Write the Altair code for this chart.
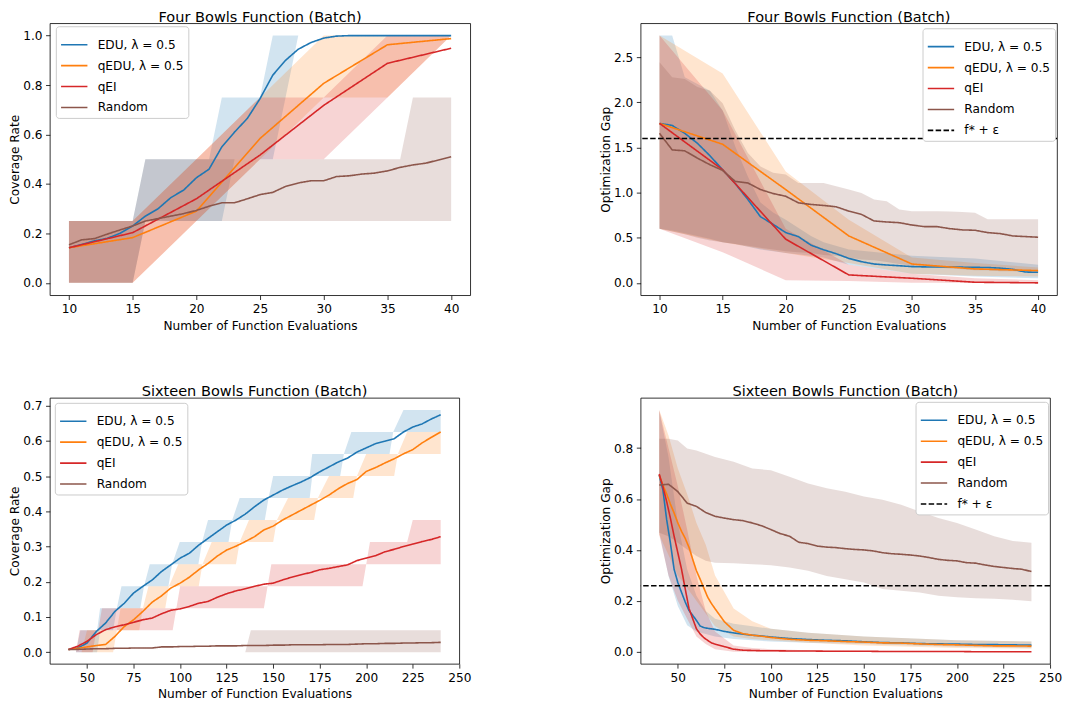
import altair as alt
import pandas as pd

FONT = "DejaVu Sans"
S_EDU = "EDU, λ = 0.5"
S_QEDU = "qEDU, λ = 0.5"
S_QEI = "qEI"
S_RND = "Random"
S_REF = "f* + ε"
COLORS = {S_EDU: "#1f77b4", S_QEDU: "#ff7f0e", S_QEI: "#d62728", S_RND: "#8c564b", S_REF: "#000000"}
DASHES = {S_EDU: [1, 0], S_QEDU: [1, 0], S_QEI: [1, 0], S_RND: [1, 0], S_REF: [5.5, 2.4]}

# ---------------- Four Bowls, coverage ----------------
tl_x_dense = list(range(10, 41))
tl_x_batch = [10, 15, 20, 25, 30, 35, 40]
tl_edu = [0.142, 0.155, 0.17, 0.18, 0.20, 0.23, 0.27, 0.30, 0.345, 0.375, 0.425, 0.46, 0.55, 0.61, 0.665,
          0.745, 0.84, 0.90, 0.945, 0.972, 0.99, 0.998, 1, 1, 1, 1, 1, 1, 1, 1, 1]
tl_qedu = [0.142, 0.183, 0.29, 0.584, 0.807, 0.963, 0.988]
tl_qei = [0.142, 0.203, 0.34, 0.517, 0.718, 0.888, 0.949]
tl_rnd = [0.154, 0.174, 0.179, 0.197, 0.214, 0.23, 0.25, 0.26, 0.27, 0.28, 0.293, 0.31, 0.324, 0.324, 0.34,
          0.357, 0.366, 0.39, 0.404, 0.413, 0.413, 0.43, 0.433, 0.44, 0.444, 0.453, 0.467, 0.477, 0.484, 0.497, 0.51]
tl_edu_band_x = [10, 15, 16, 21, 22, 23, 25, 26, 27, 28, 40]
tl_edu_band_lo = [0, 0, 0.25, 0.25, 0.25, 0.5, 0.5, 0.5, 0.75, 1.0, 1.0]
tl_edu_band_hi = [0.25, 0.25, 0.5, 0.5, 0.75, 0.75, 0.75, 1.0, 1.0, 1.0, 1.0]
tl_qedu_band_lo = [0, 0, 0.25, 0.5, 0.75, 0.75, 1.0]
tl_qedu_band_hi = [0.25, 0.25, 0.5, 0.75, 1.0, 1.0, 1.0]
tl_qei_band_lo = [0, 0, 0.25, 0.5, 0.5, 0.75, 1.0]
tl_qei_band_hi = [0.25, 0.25, 0.5, 0.75, 0.75, 1.0, 1.0]
tl_rnd_band_x = [10, 15, 16, 36, 37, 40]
tl_rnd_band_lo = [0, 0, 0.25, 0.25, 0.25, 0.25]
tl_rnd_band_hi = [0.25, 0.25, 0.5, 0.5, 0.75, 0.75]

# ---------------- Four Bowls, optimization gap ----------------
tr_edu = [1.767, 1.745, 1.657, 1.547, 1.408, 1.254, 1.10, 0.924, 0.733, 0.649, 0.557, 0.513, 0.418, 0.367, 0.323,
          0.271, 0.235, 0.209, 0.198, 0.19, 0.18, 0.177, 0.175, 0.175, 0.174, 0.172, 0.17, 0.163, 0.15, 0.12, 0.117]
tr_qedu = [1.767, 1.536, 1.034, 0.52, 0.209, 0.154, 0.136]
tr_qei = [1.767, 1.254, 0.484, 0.088, 0.051, 0.007, 0.0]
tr_rnd = [1.657, 1.474, 1.463, 1.382, 1.309, 1.246, 1.125, 1.107, 1.034, 0.99, 0.96, 0.887, 0.869, 0.858, 0.843,
          0.795, 0.759, 0.686, 0.675, 0.667, 0.641, 0.623, 0.623, 0.601, 0.587, 0.583, 0.557, 0.546, 0.52, 0.513, 0.506]
tr_edu_band_x = [10, 11, 12, 14, 15, 16, 17, 18, 19, 20, 22, 23, 25, 30, 35, 40]
tr_edu_band_hi = [2.74, 2.74, 2.28, 2.13, 1.91, 1.51, 1.18, 0.89, 0.78, 0.70, 0.52, 0.45, 0.37, 0.30, 0.27, 0.20]
tr_edu_band_lo = [0.6, 0.58, 0.55, 0.49, 0.45, 0.43, 0.40, 0.37, 0.35, 0.33, 0.30, 0.28, 0.20, 0.10, 0.07, 0.05]
tr_qedu_band_hi = [2.74, 2.32, 1.235, 0.70, 0.28, 0.22, 0.17]
tr_qedu_band_lo = [0.6, 0.45, 0.33, 0.22, 0.10, 0.08, 0.07]
tr_qei_band_hi = [2.74, 1.91, 0.60, 0.20, 0.10, 0.05, 0.03]
tr_qei_band_lo = [0.6, 0.34, 0.03, 0.02, 0.0, 0.0, 0.0]
tr_rnd_band_hi = [2.445, 2.28, 2.26, 2.17, 2.13, 1.99, 1.69, 1.44, 1.29, 1.22, 1.2, 1.107, 1.107, 1.107, 1.07, 1.034,
                  0.997, 0.924, 0.905, 0.814, 0.795, 0.795, 0.795, 0.79, 0.785, 0.777, 0.704, 0.704, 0.704, 0.704, 0.704]
tr_rnd_band_lo = [0.6, 0.57, 0.54, 0.5, 0.47, 0.45, 0.43, 0.41, 0.39, 0.37, 0.35, 0.34, 0.33, 0.31, 0.3, 0.28,
                  0.26, 0.25, 0.23, 0.21, 0.19, 0.18, 0.17, 0.16, 0.15, 0.14, 0.14, 0.13, 0.13, 0.12, 0.12]
tr_ref = 1.6

# ---------------- Sixteen Bowls, coverage ----------------
bl_x = list(range(40, 241, 5))
bl_edu = [0.0075, 0.012, 0.026, 0.059, 0.083, 0.116, 0.139, 0.168, 0.187, 0.205, 0.229, 0.248, 0.267, 0.281,
          0.304, 0.323, 0.342, 0.361, 0.375, 0.392, 0.413, 0.432, 0.446, 0.46, 0.472, 0.483, 0.496, 0.512, 0.526,
          0.54, 0.551, 0.568, 0.58, 0.592, 0.599, 0.606, 0.625, 0.639, 0.648, 0.662, 0.674]
bl_qedu = [0.0075, 0.011, 0.015, 0.019, 0.022, 0.045, 0.073, 0.092, 0.116, 0.142, 0.16, 0.182, 0.196, 0.213,
           0.234, 0.252, 0.273, 0.29, 0.301, 0.314, 0.328, 0.347, 0.358, 0.375, 0.389, 0.403, 0.417, 0.431, 0.446,
           0.464, 0.479, 0.49, 0.513, 0.524, 0.537, 0.549, 0.563, 0.575, 0.594, 0.61, 0.625]
bl_qei = [0.0075, 0.017, 0.031, 0.05, 0.064, 0.072, 0.078, 0.085, 0.092, 0.097, 0.109, 0.119, 0.123, 0.13,
          0.139, 0.144, 0.156, 0.166, 0.174, 0.18, 0.187, 0.193, 0.196, 0.205, 0.213, 0.22, 0.226, 0.234, 0.238,
          0.243, 0.248, 0.26, 0.267, 0.274, 0.285, 0.292, 0.3, 0.307, 0.314, 0.32, 0.328]
bl_rnd = [0.0075, 0.008, 0.009, 0.01, 0.01, 0.011, 0.011, 0.012, 0.012, 0.012, 0.015, 0.015, 0.016, 0.016,
          0.017, 0.017, 0.018, 0.018, 0.018, 0.019, 0.019, 0.019, 0.02, 0.02, 0.021, 0.021, 0.021, 0.021, 0.022,
          0.022, 0.022, 0.023, 0.024, 0.024, 0.025, 0.025, 0.026, 0.026, 0.027, 0.027, 0.028]
# band edges in sixteenths (bowls found out of 16)
bl_edu_band_x = [40, 44, 46.4, 55.4, 57, 64, 66, 68.5, 78.6, 80.6, 83.7, 93.7, 95.7, 99.8, 109.8, 111.8, 115,
                 126, 128, 132, 145.5, 147.5, 150, 169.6, 171, 186, 188, 192, 212.5, 214.5, 220, 240]
bl_edu_band_lo = [0, 0, 0, 0, 1, 1, 2, 2, 2, 3, 3, 3, 4, 4, 4, 5, 5, 5, 6, 6, 6, 7, 7, 7, 8, 8, 9, 9, 9, 10, 10, 10]
bl_edu_band_hi = [0, 0, 1, 1, 2, 2, 2, 3, 3, 3, 4, 4, 4, 5, 5, 5, 6, 6, 6, 7, 7, 7, 8, 8, 9, 9, 9, 10, 10, 10, 11, 11]
bl_qedu_band_x = [40, 47, 50, 64, 66, 68, 78, 80, 83, 92, 94, 99, 110, 112, 117, 130, 132, 137, 150, 152, 158,
                  172, 174, 180, 193, 195, 200, 215, 217, 222, 240]
bl_qedu_band_lo = [0, 0, 0, 0, 1, 1, 1, 2, 2, 2, 3, 3, 3, 4, 4, 4, 5, 5, 5, 6, 6, 6, 7, 7, 7, 8, 8, 8, 9, 9, 9]
bl_qedu_band_hi = [0, 0, 1, 1, 1, 2, 2, 2, 3, 3, 3, 4, 4, 4, 5, 5, 5, 6, 6, 6, 7, 7, 7, 8, 8, 8, 9, 9, 9, 10, 10]
bl_qei_band_x = [40, 44, 46, 53, 55, 56, 58, 96, 98, 100, 145, 147, 149, 198, 200, 202, 222, 225, 240]
bl_qei_band_lo = [0, 0, 0, 0, 1, 1, 1, 1, 2, 2, 2, 3, 3, 3, 4, 4, 4, 4, 4]
bl_qei_band_hi = [0, 0, 1, 1, 1, 1, 2, 2, 2, 3, 3, 3, 4, 4, 4, 5, 5, 6, 6]
bl_rnd_band_x = [40, 135, 138, 240]
bl_rnd_band_lo = [0, 0, 0, 0]
bl_rnd_band_hi = [0, 0, 1, 1]

# ---------------- Sixteen Bowls, optimization gap ----------------
br_x = [40, 42, 44, 46, 48, 50, 52, 54, 56, 58, 60, 62, 64, 66, 68, 70, 75, 80, 85, 90, 95, 100, 110, 120,
        130, 140, 150, 160, 170, 180, 190, 200, 210, 220, 230, 240]
br_edu = [0.694, 0.635, 0.519, 0.428, 0.324, 0.272, 0.233, 0.195, 0.162, 0.143, 0.123, 0.101, 0.095, 0.092,
          0.09, 0.088, 0.08, 0.074, 0.069, 0.065, 0.062, 0.058, 0.052, 0.048, 0.045, 0.043, 0.039, 0.036, 0.035,
          0.032, 0.031, 0.03, 0.0285, 0.028, 0.027, 0.026]
br_qedu = [0.694, 0.655, 0.62, 0.58, 0.545, 0.506, 0.473, 0.445, 0.41, 0.363, 0.318, 0.285, 0.25, 0.215,
           0.19, 0.169, 0.118, 0.084, 0.071, 0.065, 0.061, 0.056, 0.049, 0.045, 0.043, 0.04, 0.038, 0.035, 0.034,
           0.031, 0.0285, 0.027, 0.025, 0.023, 0.023, 0.022]
br_qei = [0.698, 0.648, 0.59, 0.525, 0.454, 0.389, 0.324, 0.246, 0.17, 0.13, 0.09, 0.07, 0.055, 0.045, 0.035,
          0.03, 0.02, 0.01, 0.006, 0.005, 0.004, 0.004, 0.003, 0.003, 0.002, 0.002, 0.002, 0.001, 0.001, 0.001,
          0.001, 0.001, 0.0, 0.0, 0.0, 0.0]
br_rnd_x = list(range(40, 241, 5))
br_rnd = [0.655, 0.658, 0.629, 0.584, 0.571, 0.547, 0.532, 0.525, 0.519, 0.515, 0.506, 0.495, 0.48, 0.464,
          0.454, 0.43, 0.425, 0.415, 0.411, 0.409, 0.405, 0.402, 0.4, 0.396, 0.389, 0.385, 0.383, 0.38, 0.376,
          0.37, 0.363, 0.359, 0.357, 0.35, 0.348, 0.341, 0.335, 0.331, 0.327, 0.324, 0.315]
br_band_x = [40, 45, 50, 55, 60, 65, 70, 80, 90, 100, 120, 150, 200, 240]
br_edu_band_hi = [0.947, 0.765, 0.506, 0.324, 0.22, 0.16, 0.13, 0.11, 0.1, 0.09, 0.075, 0.06, 0.045, 0.04]
br_edu_band_lo = [0.47, 0.298, 0.18, 0.104, 0.08, 0.07, 0.06, 0.05, 0.045, 0.04, 0.035, 0.03, 0.02, 0.015]
br_qedu_band_hi = [0.95, 0.85, 0.72, 0.62, 0.506, 0.42, 0.3, 0.17, 0.12, 0.09, 0.075, 0.06, 0.045, 0.04]
br_qedu_band_lo = [0.46, 0.38, 0.3, 0.25, 0.2, 0.15, 0.1, 0.06, 0.05, 0.045, 0.035, 0.025, 0.015, 0.012]
br_qei_band_hi = [0.95, 0.8, 0.65, 0.48, 0.3, 0.16, 0.08, 0.025, 0.015, 0.01, 0.006, 0.004, 0.003, 0.003]
br_qei_band_lo = [0.46, 0.3, 0.2, 0.13, 0.06, 0.03, 0.01, 0.0, 0.0, 0.0, 0.0, 0.0, 0.0, 0.0]
br_rnd_band_x = [40, 45, 50, 55, 60, 65, 70, 80, 90, 100, 110, 120, 130, 140, 150, 160, 170, 180, 190, 200,
                 210, 220, 230, 240]
br_rnd_band_hi = [0.837, 0.837, 0.83, 0.798, 0.791, 0.778, 0.765, 0.746, 0.72, 0.713, 0.687, 0.661, 0.642,
                  0.629, 0.61, 0.597, 0.577, 0.551, 0.525, 0.506, 0.48, 0.454, 0.435, 0.428]
br_rnd_band_lo = [0.467, 0.454, 0.428, 0.402, 0.376, 0.357, 0.35, 0.348, 0.344, 0.34, 0.331, 0.318, 0.298,
                  0.285, 0.272, 0.246, 0.24, 0.233, 0.22, 0.214, 0.21, 0.208, 0.204, 0.198]
br_ref = 0.259

LABEL_SIZE = 12.2
TITLE_SIZE = 14.6


def lines_df(items):
    rows = []
    for name, xs, ys in items:
        for a, b in zip(xs, ys):
            rows.append({"series": name, "x": a, "y": b})
    return pd.DataFrame(rows)


def band_df(xs, lo, hi, unit=1.0):
    return pd.DataFrame({"x": xs, "lo": [v * unit for v in lo], "hi": [v * unit for v in hi]})


def panel(title, lines, bands, ref, xdom, xticks, ydom, yticks, ytitle, w, h, lpos):
    series = [S_EDU, S_QEDU, S_QEI, S_RND] + ([S_REF] if ref is not None else [])
    cscale = alt.Scale(domain=series, range=[COLORS[s] for s in series])
    dscale = alt.Scale(domain=series, range=[DASHES[s] for s in series])
    xs = alt.Scale(domain=xdom, nice=False, zero=False)
    ys = alt.Scale(domain=ydom, nice=False, zero=False)
    xax = alt.Axis(values=xticks, format="d", title="Number of Function Evaluations")
    yax = alt.Axis(values=yticks, format=".1f", title=ytitle)
    leg = alt.Legend(title=None, orient="none", legendX=lpos[0], legendY=lpos[1], symbolType="stroke",
                     symbolSize=700, symbolStrokeWidth=1.6, labelFontSize=LABEL_SIZE, labelFont=FONT,
                     labelColor="black", fillColor="white", strokeColor="#cccccc", cornerRadius=3, padding=4,
                     rowPadding=-7, labelOffset=9, labelLimit=300)
    layers = []
    for name, bdf in bands:
        layers.append(
            alt.Chart(bdf).mark_area(opacity=0.2, color=COLORS[name]).encode(
                x=alt.X("x:Q", scale=xs, axis=xax),
                y=alt.Y("lo:Q", scale=ys, axis=yax),
                y2=alt.Y2("hi"),
            )
        )
    line = alt.Chart(lines).mark_line(strokeWidth=1.6).encode(
        x=alt.X("x:Q", scale=xs, axis=xax),
        y=alt.Y("y:Q", scale=ys, axis=yax),
        color=alt.Color("series:N", scale=cscale, legend=leg),
        strokeDash=alt.StrokeDash("series:N", scale=dscale, legend=leg),
    )
    layers.append(line)
    if ref is not None:
        rule = alt.Chart(pd.DataFrame({"series": [S_REF], "y": [ref]})).mark_rule(strokeWidth=1.6).encode(
            y=alt.Y("y:Q", scale=ys, axis=yax),
            color=alt.Color("series:N", scale=cscale, legend=leg),
            strokeDash=alt.StrokeDash("series:N", scale=dscale, legend=leg),
        )
        layers.append(rule)
    return alt.layer(*layers).properties(width=w, height=h, title=title)


tl = panel(
    "Four Bowls Function (Batch)",
    lines_df([(S_EDU, tl_x_dense, tl_edu), (S_QEDU, tl_x_batch, tl_qedu), (S_QEI, tl_x_batch, tl_qei),
              (S_RND, tl_x_dense, tl_rnd)]),
    [(S_EDU, band_df(tl_edu_band_x, tl_edu_band_lo, tl_edu_band_hi)),
     (S_QEDU, band_df(tl_x_batch, tl_qedu_band_lo, tl_qedu_band_hi)),
     (S_QEI, band_df(tl_x_batch, tl_qei_band_lo, tl_qei_band_hi)),
     (S_RND, band_df(tl_rnd_band_x, tl_rnd_band_lo, tl_rnd_band_hi))],
    None, [8.5, 41.5], [10, 15, 20, 25, 30, 35, 40], [-0.05, 1.05], [0, 0.2, 0.4, 0.6, 0.8, 1.0],
    "Coverage Rate", 422, 273, (6, 3))

tr = panel(
    "Four Bowls Function (Batch)",
    lines_df([(S_EDU, tl_x_dense, tr_edu), (S_QEDU, tl_x_batch, tr_qedu), (S_QEI, tl_x_batch, tr_qei),
              (S_RND, tl_x_dense, tr_rnd)]),
    [(S_EDU, band_df(tr_edu_band_x, tr_edu_band_lo, tr_edu_band_hi)),
     (S_QEDU, band_df(tl_x_batch, tr_qedu_band_lo, tr_qedu_band_hi)),
     (S_QEI, band_df(tl_x_batch, tr_qei_band_lo, tr_qei_band_hi)),
     (S_RND, band_df(tl_x_dense, tr_rnd_band_lo, tr_rnd_band_hi))],
    tr_ref, [8.5, 41.5], [10, 15, 20, 25, 30, 35, 40], [-0.137, 2.877], [0, 0.5, 1.0, 1.5, 2.0, 2.5],
    "Optimization Gap", 418, 273, (283, 5))

bl = panel(
    "Sixteen Bowls Function (Batch)",
    lines_df([(S_EDU, bl_x, bl_edu), (S_QEDU, bl_x, bl_qedu), (S_QEI, bl_x, bl_qei), (S_RND, bl_x, bl_rnd)]),
    [(S_EDU, band_df(bl_edu_band_x, bl_edu_band_lo, bl_edu_band_hi, 1 / 16)),
     (S_QEDU, band_df(bl_qedu_band_x, bl_qedu_band_lo, bl_qedu_band_hi, 1 / 16)),
     (S_QEI, band_df(bl_qei_band_x, bl_qei_band_lo, bl_qei_band_hi, 1 / 16)),
     (S_RND, band_df(bl_rnd_band_x, bl_rnd_band_lo, bl_rnd_band_hi, 1 / 16))],
    None, [30, 250], [50, 75, 100, 125, 150, 175, 200, 225, 250], [-0.033, 0.722],
    [0, 0.1, 0.2, 0.3, 0.4, 0.5, 0.6, 0.7], "Coverage Rate", 411, 267, (5, 5))

br = panel(
    "Sixteen Bowls Function (Batch)",
    lines_df([(S_EDU, br_x, br_edu), (S_QEDU, br_x, br_qedu), (S_QEI, br_x, br_qei), (S_RND, br_rnd_x, br_rnd)]),
    [(S_EDU, band_df(br_band_x, br_edu_band_lo, br_edu_band_hi)),
     (S_QEDU, band_df(br_band_x, br_qedu_band_lo, br_qedu_band_hi)),
     (S_QEI, band_df(br_band_x, br_qei_band_lo, br_qei_band_hi)),
     (S_RND, band_df(br_rnd_band_x, br_rnd_band_lo, br_rnd_band_hi))],
    br_ref, [30, 250], [50, 75, 100, 125, 150, 175, 200, 225, 250], [-0.0475, 0.9975],
    [0, 0.2, 0.4, 0.6, 0.8], "Optimization Gap", 411, 267, (276, 4))

chart = alt.concat(
    tl, tr, bl, br, columns=2, spacing={"row": 103, "column": 171}, bounds="flush"
).resolve_scale(
    color="independent", strokeDash="independent", x="independent", y="independent"
).properties(
    padding={"left": 0, "top": 0, "right": 0, "bottom": 0}
).configure_view(
    stroke="black", strokeWidth=0.8
).configure_axis(
    grid=False, domain=False, tickColor="black", tickWidth=0.8, tickSize=4.3, labelFont=FONT,
    labelFontSize=LABEL_SIZE, labelColor="black", labelPadding=3.5, labelFlush=False, titleFont=FONT,
    titleFontSize=LABEL_SIZE, titleFontWeight="normal", titleColor="black"
).configure_axisX(titlePadding=4).configure_axisY(titlePadding=1).configure_title(
    font=FONT, fontSize=TITLE_SIZE, fontWeight="normal", color="black", offset=-1, anchor="middle"
)

chart.save("out.html", embed_options={"renderer": "svg", "actions": False})
